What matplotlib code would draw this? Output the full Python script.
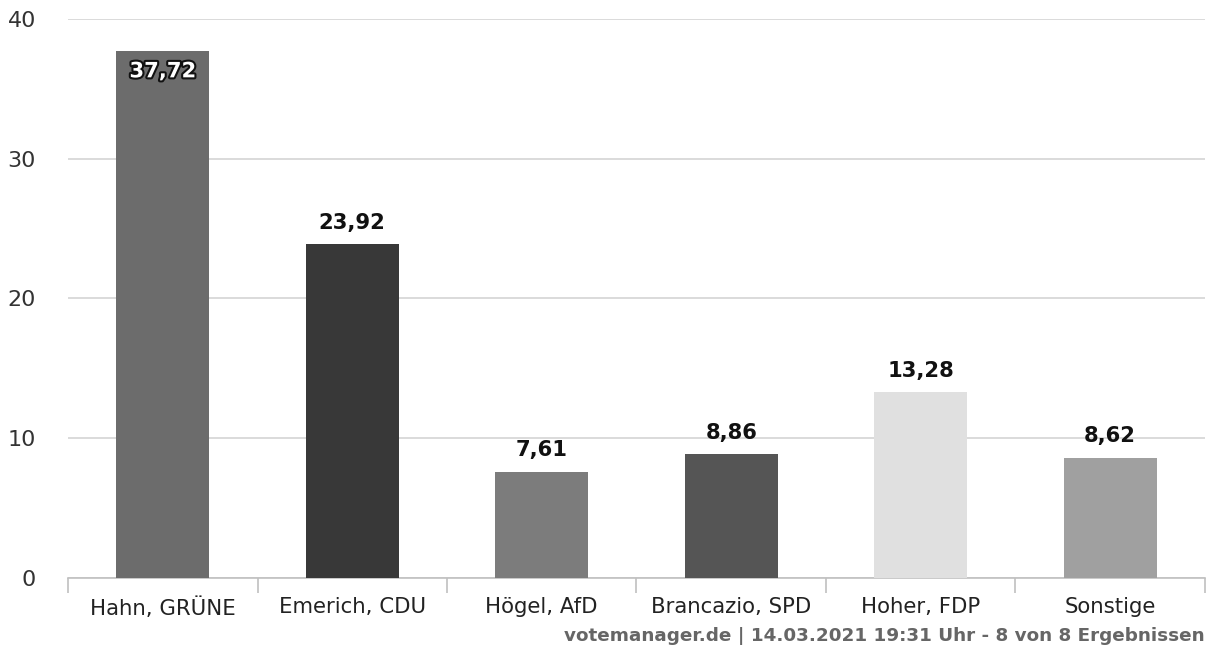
import matplotlib
matplotlib.use("Agg")
import matplotlib.pyplot as plt
import matplotlib.patheffects as pe

# Wahlergebnis (Prozent)
categories = ["Hahn, GRÜNE", "Emerich, CDU", "Högel, AfD", "Brancazio, SPD", "Hoher, FDP", "Sonstige"]
values = [37.72, 23.92, 7.61, 8.86, 13.28, 8.62]
bar_colors = ["#6c6c6c", "#383838", "#7c7c7c", "#555555", "#e0e0e0", "#a0a0a0"]
yticks = [0, 10, 20, 30, 40]
credits = "votemanager.de | 14.03.2021 19:31 Uhr - 8 von 8 Ergebnissen"


def fmt(v):
    return f"{v:.2f}".replace(".", ",")


fig = plt.figure(figsize=(12.08, 6.5), dpi=100)
ax = fig.add_axes([0.0563, 0.1108, 0.9412, 0.86])

x = list(range(len(categories)))
bars = ax.bar(x, values, width=0.49, color=bar_colors, edgecolor="none", zorder=3)

ax.set_xlim(-0.5, len(categories) - 0.5)
ax.set_ylim(0, 40)
ax.set_yticks(yticks)
ax.yaxis.grid(True, color="#d4d4d4", linewidth=1.2, zorder=0)
ax.tick_params(axis="y", length=0, pad=23, labelsize=16, labelcolor="#333333")

# x axis: boundary ticks between categories
ax.set_xticks([i - 0.5 for i in range(len(categories) + 1)])
ax.set_xticklabels([])
ax.set_xticks(x, minor=True)
ax.set_xticklabels(categories, minor=True, fontsize=15.3, color="#222222")
ax.tick_params(axis="x", which="major", length=11, width=1.2, color="#c0c0c0")
ax.tick_params(axis="x", which="minor", length=0, pad=14)

for s in ["top", "right", "left"]:
    ax.spines[s].set_visible(False)
ax.spines["bottom"].set_color("#c0c0c0")
ax.spines["bottom"].set_linewidth(1.2)

for i, (b, v) in enumerate(zip(bars, values)):
    if i == 0:
        t = ax.text(b.get_x() + b.get_width() / 2, v - 0.75, fmt(v), ha="center", va="top",
                    fontsize=15.2, fontweight="bold", color="white", zorder=5)
        t.set_path_effects([pe.withStroke(linewidth=3, foreground="#111111")])
    else:
        ax.text(b.get_x() + b.get_width() / 2, v + 0.8, fmt(v), ha="center", va="bottom",
                fontsize=15.2, fontweight="bold", color="#111111", zorder=5)

fig.text(0.9975, 0.008, credits, ha="right", va="bottom", fontsize=13.2,
         fontweight="bold", color="#666666")

fig.savefig("out.png", dpi=100)
